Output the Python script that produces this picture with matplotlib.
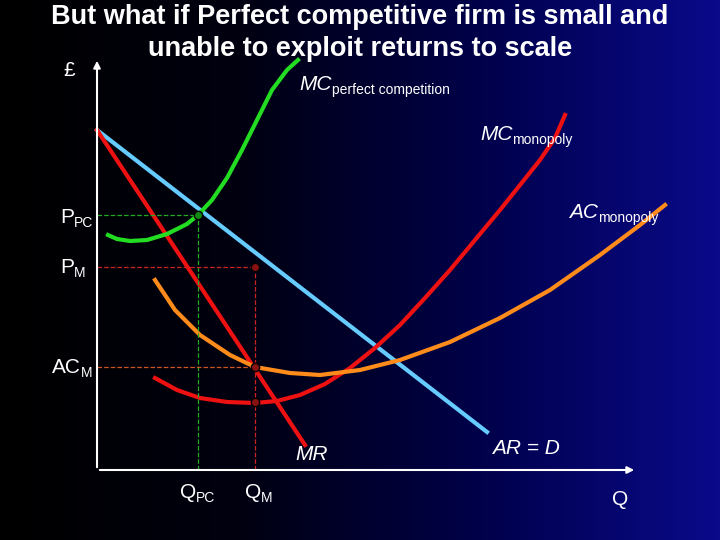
import numpy as np
import matplotlib
matplotlib.use("Agg")
import matplotlib.pyplot as plt
from matplotlib.transforms import offset_copy
from matplotlib.colors import LinearSegmentedColormap

plt.rcParams['font.family'] = ['Liberation Sans', 'DejaVu Sans']

# Data in chart units (Q right, P up), origin at axes corner
ar_q = [0, 390]; ar_p = [340, 38]
mr_q = [0, 208]; mr_p = [340, 25]
mcpc_q = [11, 20, 33, 50, 70, 90, 101, 115, 130, 145, 160, 175, 190, 201]
mcpc_p = [235, 231, 229, 230, 236, 246, 255, 270, 292, 320, 350, 380, 400, 410]
mcm_q = [58, 80, 103, 130, 158, 180, 203, 228, 253, 278, 303, 328, 353, 378, 403, 423, 443, 458, 468]
mcm_p = [92, 80, 72, 68, 67, 69, 75, 86, 102, 122, 145, 172, 200, 230, 260, 285, 310, 332, 355]
acm_q = [58, 78, 103, 133, 158, 193, 223, 263, 303, 353, 403, 453, 503, 543, 568]
acm_p = [190, 160, 135, 115, 103, 97, 95, 100, 110, 128, 152, 180, 215, 245, 265]
q_pc, p_pc = 101, 255
q_m, p_m, ac_m, mc_m = 158, 203, 103, 68

fig = plt.figure(figsize=(7.2, 5.4), dpi=100)
bg = fig.add_axes([0, 0, 1, 1]); bg.axis('off')
grad = np.linspace(0, 1, 256)[None, :]
cm = LinearSegmentedColormap.from_list('g', ['#000000', '#000010', '#00004a', '#0a0a8a'])
bg.imshow(grad, aspect='auto', cmap=cm, extent=[0, 1, 0, 1])

ax = fig.add_axes([0, 0, 1, 1], facecolor='none')
ax.set_xlim(-97, 623); ax.set_ylim(-70, 470); ax.axis('off')

ax.annotate('', xy=(0, 412), xytext=(0, 0), arrowprops=dict(arrowstyle='-|>', color='white', lw=1.5))
ax.annotate('', xy=(540, 0), xytext=(0, 0), arrowprops=dict(arrowstyle='-|>', color='white', lw=1.5))

kw = dict(lw=3, solid_joinstyle='round')
ax.plot(ar_q, ar_p, color='#66ccff', **kw)
ax.plot(mr_q, mr_p, color='#ee1111', **kw)
ax.plot(mcpc_q, mcpc_p, color='#22dd22', **kw)
ax.plot(mcm_q, mcm_p, color='#ee1111', **kw)
ax.plot(acm_q, acm_p, color='#ff8c1a', **kw)

ax.plot([0, q_pc], [p_pc, p_pc], ls='--', color='#22aa22', lw=0.9)
ax.plot([q_pc, q_pc], [0, p_pc], ls='--', color='#22aa22', lw=0.9)
ax.plot([0, q_m], [p_m, p_m], ls='--', color='#cc2222', lw=0.9)
ax.plot([q_m, q_m], [0, p_m], ls='--', color='#cc2222', lw=0.9)
ax.plot([0, q_m], [ac_m, ac_m], ls='--', color='#cc5522', lw=0.9)

ax.plot([q_pc], [p_pc], 'o', color='#118811', ms=6, mec='black')
ax.plot([q_m]*3, [p_m, ac_m, mc_m], 'o', color='#881111', ms=6, mec='black')

fig.text(0.5, 0.993, 'But what if Perfect competitive firm is small and',
         ha='center', va='top', color='white', fontsize=19.5, fontweight='bold')
fig.text(0.5, 0.933, 'unable to exploit returns to scale',
         ha='center', va='top', color='white', fontsize=19.5, fontweight='bold')
ax.text(-22, 400, '£', color='white', fontsize=15, ha='right', va='center')

fig.canvas.draw()
r = fig.canvas.get_renderer()
def lab(x, y, main, sub, size=15, subsize=10, italic=True):
    t = ax.text(x, y, main, color='white', fontsize=size, style='italic' if italic else 'normal',
                ha='left', va='baseline')
    ext = t.get_window_extent(r)
    xs, _ = ax.transData.inverted().transform((ext.x1, ext.y0))
    ax.text(xs, y, sub, color='white', fontsize=subsize, va='baseline',
            transform=offset_copy(ax.transData, fig=fig, x=0, y=-3, units='points'))

lab(202, 380, 'MC', 'perfect competition')
lab(383, 330, 'MC', 'monopoly')
lab(472, 252, 'AC', 'monopoly')
lab(-37, 247, 'P', 'PC', italic=False)
lab(-37, 197, 'P', 'M', italic=False)
lab(-45, 97, 'AC', 'M', italic=False)
lab(83, -28, 'Q', 'PC', italic=False)
lab(148, -28, 'Q', 'M', italic=False)
ax.text(198, 10, 'MR', color='white', fontsize=15, style='italic')
ax.text(395, 16, 'AR = D', color='white', fontsize=15, style='italic')
ax.text(515, -35, 'Q', color='white', fontsize=15)

fig.savefig('out.png', dpi=100)
